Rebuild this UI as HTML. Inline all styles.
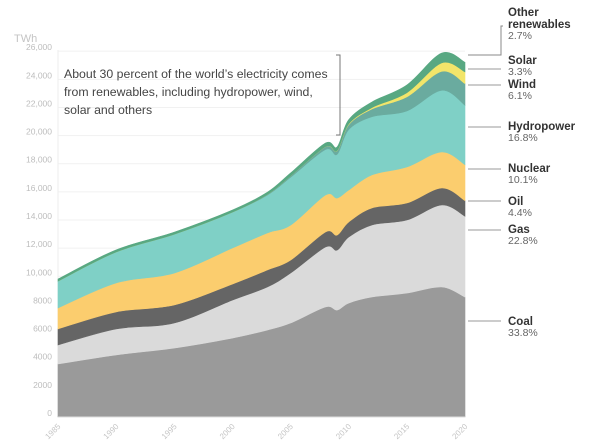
<!DOCTYPE html>
<html><head><meta charset="utf-8"><style>
body{margin:0;background:#fff;}
svg{display:block;font-family:"Liberation Sans",sans-serif;}
</style></head><body>
<svg id="chart" width="602" height="443">
<text x="14" y="42" font-size="11" fill="#c4c4c4">TWh</text>
<g id="grid"></g><g id="areas"></g><g id="axes"></g>
<g fill="#444" font-size="12.3">
<text x="64" y="78">About 30 percent of the world’s electricity comes</text>
<text x="64" y="96">from renewables, including hydropower, wind,</text>
<text x="64" y="114">solar and others</text>
</g>
<path d="M336 55 H340 V135 H336" fill="none" stroke="#777" stroke-width="1"/>
<g id="legend"></g>
</svg>
<script>
const years=[1985,1990,1995,2000,2003,2005,2008,2009,2010,2012,2015,2018,2020];
const coal=[3.77,4.41,4.90,5.61,6.18,6.68,7.82,7.60,8.10,8.53,8.81,9.24,8.52];
const gas=[1.35,1.85,1.78,2.70,3.06,3.55,4.26,4.26,4.69,5.12,5.19,5.83,5.75];
const oil=[1.14,1.21,1.28,1.14,1.21,0.92,1.07,1.07,1.07,1.21,1.21,1.21,1.11];
const nuclear=[1.49,2.06,2.27,2.56,2.63,2.49,2.63,2.63,2.27,2.35,2.56,2.56,2.55];
const hydro=[1.91,2.20,2.76,2.55,2.69,3.40,3.23,3.11,4.30,4.13,3.98,4.38,4.23];
const wind=[0,0,0,0,0.05,0.1,0.2,0.25,0.35,0.55,1.0,1.35,1.54];
const solar=[0,0,0,0,0,0,0.01,0.02,0.05,0.1,0.3,0.6,0.83];
const other=[0.15,0.15,0.15,0.15,0.15,0.2,0.25,0.25,0.3,0.4,0.55,0.7,0.68];
const yTicks=[0,2000,4000,6000,8000,10000,12000,14000,16000,18000,20000,22000,24000,26000];
const xTicks=[1985,1990,1995,2000,2005,2010,2015,2020];
const seriesNames=["coal","gas","oil","nuclear","hydro","wind","solar","other"];
const seriesData=[coal,gas,oil,nuclear,hydro,wind,solar,other];
const colors=["#9a9a9a","#dadada","#656565","#fbcd6e","#7fd0c6","#6aab9f","#f2e56a","#58a882"];
const legendLabels=[["Coal","33.8%",321,321],["Gas","22.8%",230,229],["Oil","4.4%",201,201],["Nuclear","10.1%",169,168],["Hydropower","16.8%",127,126],["Wind","6.1%",85,84],["Solar","3.3%",69,60],["Other renewables","2.7%",55,12]];
const NS="http://www.w3.org/2000/svg";
const X=y=>58+(y-1985)*(465-58)/35;
const Y=v=>417-v*14.07/1000;
function el(t,a,p){const e=document.createElementNS(NS,t);for(const k in a)e.setAttribute(k,a[k]);p.appendChild(e);return e;}
const grid=document.getElementById('grid'),axes=document.getElementById('axes');
yTicks.forEach(t=>{
 if(t>0){const g=el('line',{x1:58,x2:465,y1:Y(t),y2:Y(t),stroke:'#f1f1f1'},grid);
 
 }
 const tx=el('text',{x:52,y:Y(t)-1,'text-anchor':'end','font-size':8.5,fill:'#bdbdbd'},axes);
 tx.textContent=t===0?'0':(t>=10000?t.toLocaleString('en-US'):String(t));
 
 
});
el('line',{x1:58,x2:58,y1:50,y2:417,stroke:'#eee'},grid);
xTicks.forEach(t=>{
 const tx=el('text',{x:0,y:0,'text-anchor':'end','font-size':8,fill:'#c4c4c4',transform:`translate(${X(t)+3},${427}) rotate(-45)`},axes);
 tx.textContent=t;
 
 
});
function curve(pts){let d='';for(let i=0;i<pts.length-1;i++){const p0=pts[Math.max(0,i-1)],p1=pts[i],p2=pts[i+1],p3=pts[Math.min(pts.length-1,i+2)];
 const c1=[p1[0]+(p2[0]-p0[0])/6,p1[1]+(p2[1]-p0[1])/6],c2=[p2[0]-(p3[0]-p1[0])/6,p2[1]-(p3[1]-p1[1])/6];
 d+=`C${c1[0]},${c1[1]} ${c2[0]},${c2[1]} ${p2[0]},${p2[1]}`;}return d;}
const areas=document.getElementById('areas');
let base=years.map(()=>0);
seriesData.forEach((s,k)=>{
 const top=base.map((b,i)=>b+s[i]*1000);
 const tp=years.map((y,i)=>[X(y),Y(top[i])]);
 const bp=years.map((y,i)=>[X(y),Y(base[i])]).reverse();
 const d=`M${tp[0][0]},${tp[0][1]}`+curve(tp)+`L${bp[0][0]},${bp[0][1]}`+curve(bp)+'Z';
 const p=el('path',{d:d,fill:colors[k],stroke:colors[k],'stroke-width':0.6},areas);
 
 
 base=top;
});
el('line',{x1:58,x2:465,y1:417,y2:417,stroke:'#ddd'},axes);
const lg=document.getElementById('legend');
legendLabels.forEach(([n,p,ly,ty],k)=>{
 const g=el('g',{},lg);
 
 
 if(k===7){el('path',{d:`M468 ${ly} H501 V26 H503`,fill:'none',stroke:'#888'},g);
  const t1=el('text',{x:508,y:16,'font-size':11.5,'font-weight':'bold',fill:'#333'},g);t1.textContent='Other';
  const t2=el('text',{x:508,y:28,'font-size':11.5,'font-weight':'bold',fill:'#333'},g);t2.textContent='renewables';
  const t3=el('text',{x:508,y:39,'font-size':10.5,fill:'#666'},g);t3.textContent=p;
 } else {
  el('line',{x1:468,x2:501,y1:ly,y2:ly,stroke:'#999'},g);
  const t1=el('text',{x:508,y:ty+4,'font-size':11.5,'font-weight':'bold',fill:'#333'},g);t1.textContent=n;
  const t2=el('text',{x:508,y:ty+15,'font-size':10.5,fill:'#666'},g);t2.textContent=p;
 }
});
</script>
</body></html>
